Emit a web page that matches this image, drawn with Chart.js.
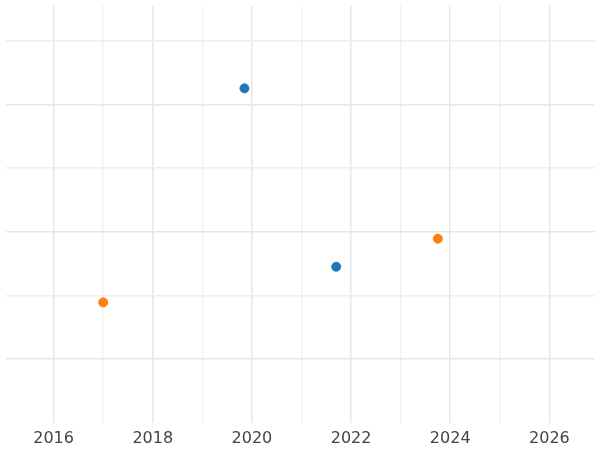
<!DOCTYPE html>
<html>
<head>
<meta charset="utf-8">
<script src="https://cdn.jsdelivr.net/npm/chart.js@4"></script>
<style>
  html, body { margin: 0; padding: 0; background: #fff; }
  #wrap { width: 600px; height: 450px; }
</style>
</head>
<body>
<div id="wrap"><canvas id="scatter"></canvas></div>
<script>
// series values (year, value)
var blueX = [2019.85, 2021.7];
var blueY = [5.25, 2.45];
var orangeX = [2017.0, 2023.75];
var orangeY = [1.89, 2.89];
var xTickLabels = [2016, 2018, 2020, 2022, 2024, 2026];

function toPoints(xs, ys) {
	return xs.map(function (x, i) { return { x: x, y: ys[i] }; });
}

var ctx = document.getElementById('scatter').getContext('2d');
var chart = new Chart(ctx, {
	type: 'scatter',
	data: {
		datasets: [
			{ label: 'A', data: toPoints(blueX, blueY), backgroundColor: '#1f77b4', borderColor: '#1f77b4', pointRadius: 4.5 },
			{ label: 'B', data: toPoints(orangeX, orangeY), backgroundColor: '#ff7f0e', borderColor: '#ff7f0e', pointRadius: 4.5 }
		]
	},
	options: {
		responsive: true,
		maintainAspectRatio: false,
		animation: false,
		layout: { padding: { left: -7, right: -7, top: -6, bottom: -4 } },
		plugins: { legend: { display: false }, tooltip: { enabled: false } },
		scales: {
			x: {
				type: 'linear',
				min: 2015.03,
				max: 2026.91,
				afterBuildTicks: function (axis) {
					var t = [];
					for (var y = 2016; y <= 2026; y++) t.push({ value: y });
					axis.ticks = t;
				},
				border: { display: false },
				grid: {
					drawTicks: false,
					color: function (c) { return c.tick && c.tick.value % 2 === 0 ? '#e6e6e6' : '#f2f2f2'; },
					lineWidth: 1.5
				},
				ticks: {
					autoSkip: false,
					maxRotation: 0,
					padding: 6,
					color: '#444',
					font: { family: 'DejaVu Sans', size: 16 },
					callback: function (v) { return xTickLabels.indexOf(v) >= 0 ? String(v) : ''; }
				}
			},
			y: {
				min: 0,
				max: 6.55,
				border: { display: false },
				grid: {
					drawTicks: false,
					color: function (c) { return c.tick && c.tick.value % 2 === 1 ? '#e6e6e6' : '#eeeeee'; },
					lineWidth: 1.5
				},
				afterBuildTicks: function (axis) {
					axis.ticks = [1, 2, 3, 4, 5, 6].map(function (v) { return { value: v }; });
				},
				ticks: { display: false }
			}
		}
	}
});
</script>
</body>
</html>
